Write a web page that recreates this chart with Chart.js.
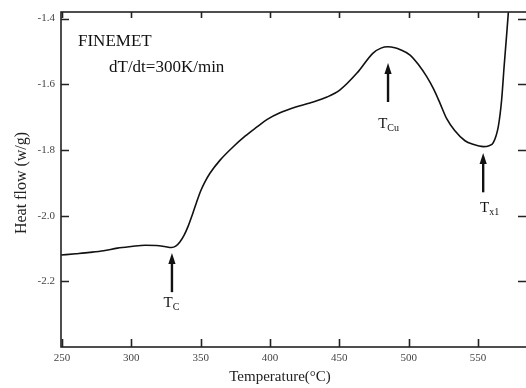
<!DOCTYPE html>
<html>
<head>
<meta charset="utf-8">
<script src="https://cdn.jsdelivr.net/npm/chart.js@4/dist/chart.umd.min.js"></script>
<style>
  html, body { margin: 0; padding: 0; background: #fff; overflow: hidden; }
  #wrap { width: 540px; height: 388px; }
</style>
</head>
<body>
<div id="wrap"><canvas id="c" width="540" height="388"></canvas></div>
<script>
// DSC trace, FINEMET, 300 K/min
const temperature = [249.3, 260, 270, 280, 290, 300, 310, 318, 324, 329, 332, 335, 338, 341, 344,
  347, 350, 353, 356.7, 364, 373.3, 382, 390.6, 398, 407.2, 418, 428.8, 441.1, 450.5, 462.7,
  474.3, 480, 485, 490, 494, 501, 507, 513, 518, 522.6, 527.4, 533, 540.6, 546.4, 553.8, 558,
  561, 564.6, 567, 568.8, 570.7, 572];
const heatFlow = [-2.120, -2.116, -2.112, -2.107, -2.099, -2.094, -2.090, -2.091, -2.094, -2.097,
  -2.093, -2.080, -2.060, -2.032, -1.997, -1.960, -1.925, -1.898, -1.871, -1.831, -1.791, -1.758,
  -1.730, -1.707, -1.687, -1.670, -1.657, -1.639, -1.617, -1.566, -1.505, -1.490, -1.486, -1.489,
  -1.495, -1.511, -1.540, -1.577, -1.615, -1.658, -1.705, -1.740, -1.772, -1.783, -1.790, -1.787,
  -1.778, -1.729, -1.648, -1.546, -1.445, -1.373];

const xTicks = [250, 300, 350, 400, 450, 500, 550];
const yTicks = [-1.4, -1.6, -1.8, -2.0, -2.2];

// arrows: x, tip, tail, label position (data units)
const markers = [
  { main: "T", sub: "C",  x: 329.3, tip: -2.114, tail: -2.233, lx: 329.0, ly: -2.279 },
  { main: "T", sub: "Cu", x: 485.1, tip: -1.535, tail: -1.654, lx: 485.5, ly: -1.733 },
  { main: "T", sub: "x1", x: 553.7, tip: -1.809, tail: -1.929, lx: 558.4, ly: -1.989 },
];

const SERIF = "'Liberation Serif', 'Times New Roman', serif";

const points = temperature.map((t, i) => ({ x: t, y: heatFlow[i] }));

const frame = {
  id: "frame",
  afterDraw(chart) {
    const { ctx, chartArea: a, scales } = chart;
    const x = scales.x, y = scales.y;
    ctx.save();
    ctx.strokeStyle = "#222";
    ctx.lineWidth = 1.6;
    ctx.strokeRect(a.left, a.top, a.right - a.left, a.bottom - a.top);
    ctx.beginPath();
    xTicks.forEach(v => {
      const px = Math.round(x.getPixelForValue(v)) + 0.5;
      ctx.moveTo(px, a.bottom); ctx.lineTo(px, a.bottom - 8);
      ctx.moveTo(px, a.top); ctx.lineTo(px, a.top + 6);
    });
    yTicks.forEach(v => {
      const py = Math.round(y.getPixelForValue(v)) + 0.5;
      ctx.moveTo(a.left, py); ctx.lineTo(a.left + 8, py);
      ctx.moveTo(a.right, py); ctx.lineTo(a.right - 9, py);
    });
    ctx.stroke();

    // arrows + labels
    ctx.fillStyle = "#111";
    ctx.strokeStyle = "#111";
    markers.forEach(m => {
      const px = x.getPixelForValue(m.x);
      const tip = y.getPixelForValue(m.tip);
      const tail = y.getPixelForValue(m.tail);
      ctx.lineWidth = 2.4;
      ctx.beginPath();
      ctx.moveTo(px, tail); ctx.lineTo(px, tip + 8);
      ctx.stroke();
      ctx.beginPath();
      ctx.moveTo(px, tip);
      ctx.lineTo(px - 3.6, tip + 11);
      ctx.lineTo(px + 3.6, tip + 11);
      ctx.closePath();
      ctx.fill();

      ctx.font = "15px " + SERIF;
      const wMain = ctx.measureText(m.main).width;
      ctx.font = "10px " + SERIF;
      const wSub = ctx.measureText(m.sub).width;
      const lx = x.getPixelForValue(m.lx) - (wMain + wSub) / 2;
      const ly = y.getPixelForValue(m.ly);
      ctx.textAlign = "left";
      ctx.textBaseline = "alphabetic";
      ctx.font = "15px " + SERIF;
      ctx.fillText(m.main, lx, ly);
      ctx.font = "10px " + SERIF;
      ctx.fillText(m.sub, lx + wMain, ly + 3);
    });

    // text annotations
    ctx.font = "17px " + SERIF;
    ctx.fillText("FINEMET", a.left + 17, a.top + 34);
    ctx.fillText("dT/dt=300K/min", a.left + 48, a.top + 60);

    // axis titles
    ctx.fillStyle = "#222";
    ctx.textAlign = "center";
    ctx.font = "15px " + SERIF;
    ctx.fillText("Temperature(\u00B0C)", 280, 381);
    ctx.font = "16px " + SERIF;
    ctx.translate(25.5, 183);
    ctx.rotate(-Math.PI / 2);
    ctx.fillText("Heat flow (w/g)", 0, 0);
    ctx.restore();
  }
};

new Chart(document.getElementById("c"), {
  type: "line",
  data: {
    datasets: [{
      data: points,
      borderColor: "#111",
      borderWidth: 1.6,
      pointRadius: 0,
      fill: false,
      cubicInterpolationMode: "monotone",
    }]
  },
  options: {
    responsive: false,
    animation: false,
    layout: { padding: { top: 12, right: 13, left: 0, bottom: 0 } },
    plugins: { legend: { display: false }, tooltip: { enabled: false } },
    scales: {
      x: {
        type: "linear",
        min: 249.3,
        max: 585.3,
        afterBuildTicks: s => { s.ticks = xTicks.map(v => ({ value: v })); },
        afterFit: s => { s.height = 41; },
        grid: { display: false },
        border: { display: false },
        ticks: { padding: -3, color: "#444", font: { family: SERIF, size: 11 } },
      },
      y: {
        type: "linear",
        min: -2.40,
        max: -1.38,
        afterBuildTicks: s => { s.ticks = yTicks.map(v => ({ value: v })); },
        afterFit: s => { s.width = 61; },
        grid: { display: false },
        border: { display: false },
        ticks: {
          padding: -2, color: "#444", font: { family: SERIF, size: 11 },
          callback: v => v.toFixed(1),
        },
      },
    },
  },
  plugins: [frame],
});
</script>
</body>
</html>
